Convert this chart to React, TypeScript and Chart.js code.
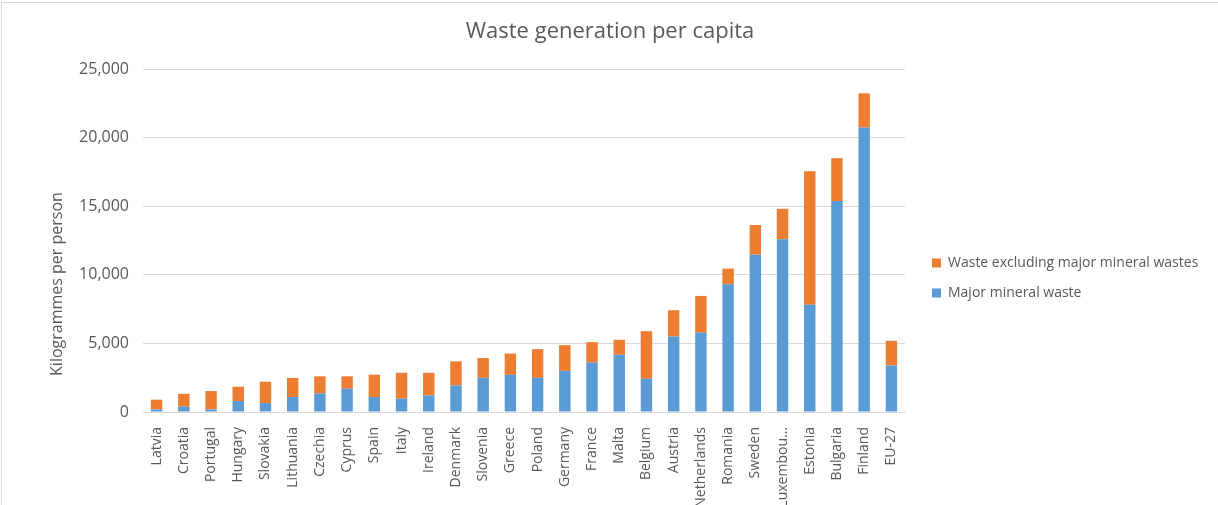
import React, { useEffect, useRef } from "react";
import { Chart, registerables } from "chart.js";

Chart.register(...registerables);

const categories = [
  "Latvia", "Croatia", "Portugal", "Hungary", "Slovakia", "Lithuania", "Czechia",
  "Cyprus", "Spain", "Italy", "Ireland", "Denmark", "Slovenia", "Greece", "Poland",
  "Germany", "France", "Malta", "Belgium", "Austria", "Netherlands", "Romania",
  "Sweden", "Luxembou...", "Estonia", "Bulgaria", "Finland", "EU-27",
];

const majorMineralWaste = [
  190, 390, 190, 800, 650, 1090, 1360, 1700, 1090, 970, 1210, 1940, 2490, 2710,
  2490, 3000, 3610, 4170, 2420, 5500, 5790, 9310, 11470, 12590, 7810, 15370, 20730, 3390,
];

const wasteExcludingMineral = [
  710, 940, 1340, 1040, 1560, 1390, 1240, 900, 1630, 1890, 1650, 1750, 1440, 1550,
  2090, 1870, 1480, 1090, 3470, 1920, 2670, 1140, 2160, 2220, 9730, 3130, 2500, 1800,
];

const yTickValues = [0, 5000, 10000, 15000, 20000, 25000];

const FONT = "'Open Sans', 'DejaVu Sans', sans-serif";
const TEXT = "#595959";

const textPlugin = {
  id: "textPlugin",
  afterDraw(chart: any, _args: any, opts: any) {
    const ctx = chart.ctx;
    (opts.items || []).forEach((it: any) => {
      ctx.save();
      ctx.translate(it.x, it.y);
      if (it.rotate) ctx.rotate(it.rotate);
      ctx.font = `${it.size}px ${FONT}`;
      ctx.fillStyle = TEXT;
      ctx.textAlign = "center";
      ctx.textBaseline = "middle";
      ctx.fillText(it.text, 0, 0);
      ctx.restore();
    });
  },
};

const sideLegendPlugin = {
  id: "sideLegendPlugin",
  afterDraw(chart: any, _args: any, opts: any) {
    const ctx = chart.ctx;
    const ds = [...chart.data.datasets].reverse();
    ctx.save();
    ctx.font = `${opts.size}px ${FONT}`;
    ctx.textBaseline = "middle";
    ctx.textAlign = "left";
    ds.forEach((d: any, i: number) => {
      const cy = opts.y + i * opts.spacing;
      ctx.fillStyle = d.backgroundColor;
      ctx.fillRect(opts.x, cy - opts.box / 2, opts.box, opts.box);
      ctx.fillStyle = TEXT;
      ctx.fillText(d.label, opts.x + opts.box + opts.gap, cy);
    });
    ctx.restore();
  },
};

export default function App() {
  const canvasRef = useRef<HTMLCanvasElement | null>(null);

  useEffect(() => {
    if (!canvasRef.current) return;
    Chart.defaults.font.family = FONT;
    Chart.defaults.color = TEXT;
    const chart = new Chart(canvasRef.current, {
      type: "bar",
      data: {
        labels: categories,
        datasets: [
          {
            label: "Major mineral waste",
            data: majorMineralWaste,
            backgroundColor: "#5B9BD5",
            barPercentage: 0.42,
            categoryPercentage: 1,
          },
          {
            label: "Waste excluding major mineral wastes",
            data: wasteExcludingMineral,
            backgroundColor: "#ED7D31",
            barPercentage: 0.42,
            categoryPercentage: 1,
          },
        ],
      },
      plugins: [textPlugin, sideLegendPlugin],
      options: {
        animation: false,
        responsive: true,
        maintainAspectRatio: false,
        layout: { padding: { left: 0, right: 313, top: 69, bottom: 0 } },
        plugins: {
          title: { display: false },
          legend: { display: false },
          tooltip: { enabled: false },
          textPlugin: {
            items: [
              { text: "Waste generation per capita", x: 610, y: 32, size: 22 },
              { text: "Kilogrammes per person", x: 57, y: 284, size: 16, rotate: -Math.PI / 2 },
            ],
          },
          sideLegendPlugin: { x: 932, y: 263, spacing: 30, box: 9, gap: 7, size: 14 },
        } as any,
        scales: {
          x: {
            stacked: true,
            grid: { display: false },
            border: { display: true, color: "#D9D9D9", width: 1 },
            ticks: {
              maxRotation: 90,
              minRotation: 90,
              autoSkip: false,
              padding: 7,
              color: TEXT,
              font: { size: 14, family: FONT },
            },
            afterFit: (s: any) => {
              s.height = 93;
            },
          },
          y: {
            stacked: true,
            min: 0,
            max: 25000,
            afterBuildTicks: (s: any) => {
              s.ticks = yTickValues.map((v) => ({ value: v }));
            },
            grid: { color: "#D9D9D9", drawTicks: false, lineWidth: 1 },
            border: { display: false },
            ticks: {
              padding: 14,
              color: TEXT,
              font: { size: 16, family: FONT },
              callback: (v: any) => Number(v).toLocaleString("en-US"),
            },
            afterFit: (s: any) => {
              s.width = 143;
            },
          },
        },
      },
    });
    return () => chart.destroy();
  }, []);

  return (
    <div style={{ position: "fixed", left: 0, top: 0, width: 1218, height: 505, background: "#fff" }}>
      <div
        style={{
          position: "absolute",
          left: 1,
          top: 2,
          width: 1300,
          height: 600,
          borderLeft: "1px solid #D9D9D9",
          borderTop: "1px solid #D9D9D9",
        }}
      />
      <canvas ref={canvasRef} style={{ position: "absolute", left: 0, top: 0 }} />
    </div>
  );
}
